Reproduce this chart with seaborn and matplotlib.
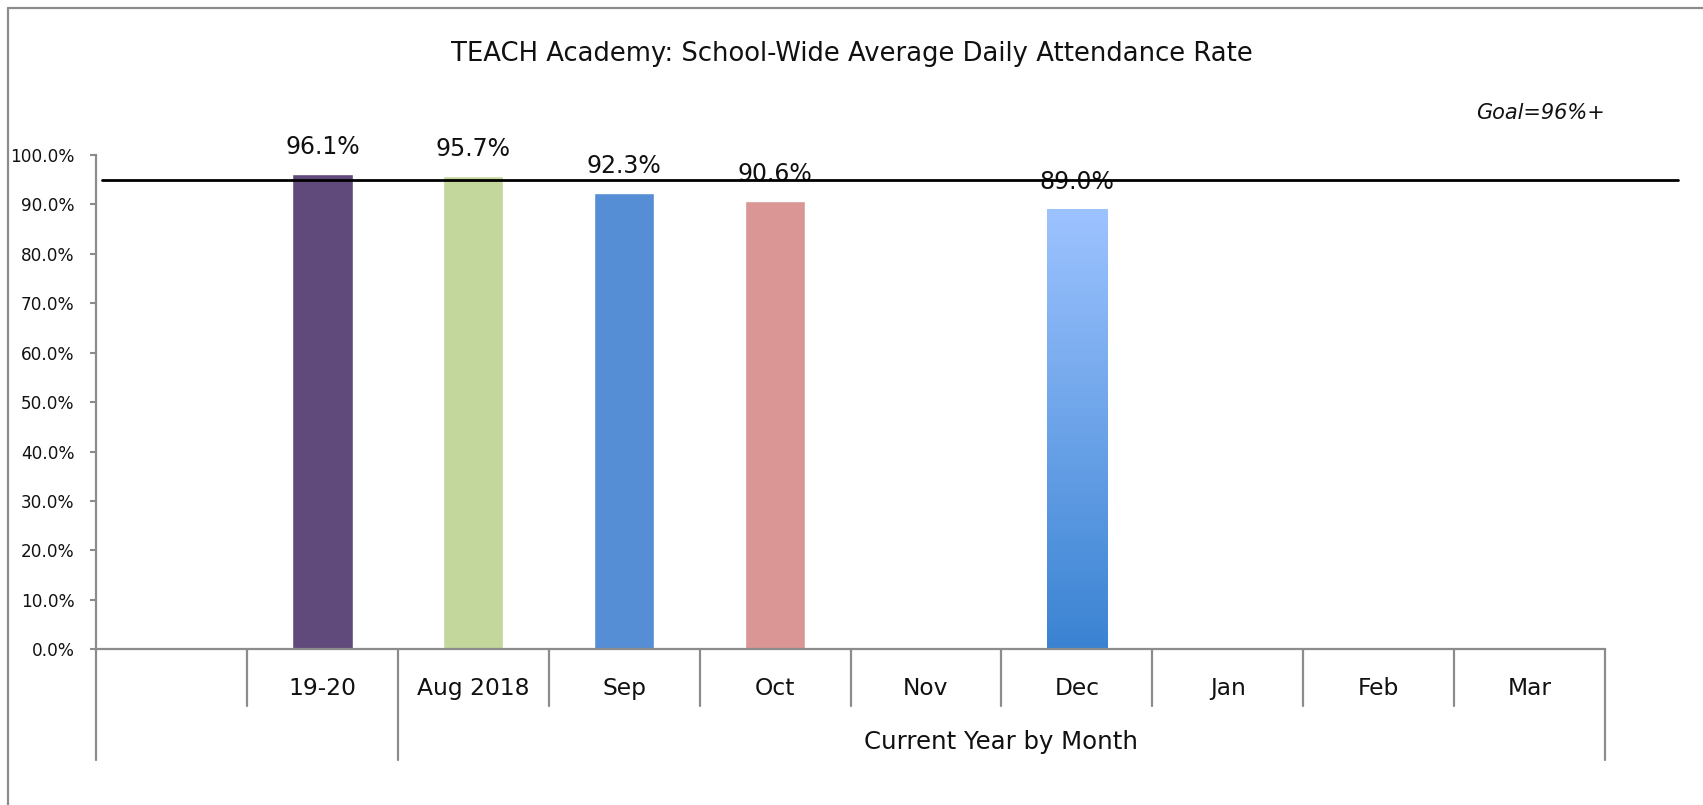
import numpy as np
import pandas as pd
import matplotlib
matplotlib.use("Agg")
import matplotlib.pyplot as plt
import matplotlib.transforms as mtransforms
from matplotlib.lines import Line2D
from matplotlib.ticker import PercentFormatter
import seaborn as sns

# ---- data ----
categories = ["", "19-20", "Aug 2018", "Sep", "Oct", "Nov", "Dec", "Jan", "Feb", "Mar"]
rates = [np.nan, 0.961, 0.957, 0.923, 0.906, np.nan, 0.890, np.nan, np.nan, np.nan]
bar_colors = {"19-20": "#604A7B", "Aug 2018": "#C3D69B", "Sep": "#558ED5",
              "Oct": "#D99694", "Dec": "#7AAEF0"}
groups = ["", "Current Year by Month"]
group_spans = [(0, 1), (2, 9)]
goal_value = 0.95
goal_text = "Goal=96%+"
title = "TEACH Academy: School-Wide Average Daily Attendance Rate"
y_ticks = [i / 10 for i in range(11)]

sns.set_style("white")
plt.rcParams["font.family"] = ["DejaVu Sans"]

W, H = 1703, 805
fig = plt.figure(figsize=(W / 100, H / 100), dpi=100)
ax = fig.add_axes([96 / W, 1 - 649.3 / H, (1605 - 96) / W, (649.3 - 155) / H])

df = pd.DataFrame({"cat": categories, "rate": rates}).dropna()
sns.barplot(data=df, x="cat", y="rate", hue="cat", order=categories,
            palette=bar_colors, width=0.4, legend=False, ax=ax,
            saturation=1, errorbar=None)

# gradient fill for Dec bar
dec_idx = categories.index("Dec")
for p in ax.patches:
    x0 = p.get_x()
    if abs(x0 + p.get_width() / 2 - dec_idx) < 1e-6:
        h = p.get_height()
        cmap = matplotlib.colors.LinearSegmentedColormap.from_list(
            "g", ["#3A83D2", "#9DC3FF"])
        grad = np.linspace(0, 1, 256).reshape(-1, 1)
        im = ax.imshow(grad, cmap=cmap, aspect="auto", origin="lower",
                       extent=[x0, x0 + p.get_width(), 0, h], zorder=p.get_zorder() + 0.1)
        im.set_clip_path(p)
        p.set_facecolor("none")

for c in ax.containers:
    ax.bar_label(c, fmt="{:.1%}", padding=11, fontsize=17, color="#111111")

ax.set_xlim(-0.5, len(categories) - 0.5)
ax.set_ylim(0, 1.0)
ax.set_yticks(y_ticks)
ax.yaxis.set_major_formatter(PercentFormatter(1.0, decimals=1))
ax.set_xticks(range(len(categories)), labels=categories)
ax.tick_params(axis="x", length=0, pad=20, labelsize=16.8, labelcolor="#111111")
ax.tick_params(axis="y", left=True, length=4.5, width=1.5, color="#8C8C8C",
               direction="out", pad=11, labelsize=12.2, labelcolor="#111111")
ax.set_xlabel("")
ax.set_ylabel("")
ax.set_aspect("auto")

for s in ["top", "right"]:
    ax.spines[s].set_visible(False)
for s in ["left", "bottom"]:
    ax.spines[s].set_color("#8C8C8C")
    ax.spines[s].set_linewidth(1.6)

# goal line (extends past plot area)
gtrans = mtransforms.blended_transform_factory(ax.transAxes, ax.transData)
ax.plot([0.004, (1678 - 96) / (1605 - 96)], [goal_value, goal_value],
        transform=gtrans, color="black", lw=2.0, clip_on=False, zorder=5)

# multi-level category separators
sep_trans = mtransforms.blended_transform_factory(ax.transData, ax.transAxes)
short_y = -(706 - 649.3) / (649.3 - 155)
long_y = -(760 - 649.3) / (649.3 - 155)
group_edges = set()
for a, b in group_spans:
    group_edges.add(a - 0.5)
    group_edges.add(b + 0.5)
for i in range(len(categories) + 1):
    xb = i - 0.5
    yend = long_y if xb in group_edges else short_y
    ax.plot([xb, xb], [0, yend], transform=sep_trans, color="#8C8C8C",
            lw=1.6, clip_on=False)

lab_y = -(742 - 649.3) / (649.3 - 155)
for g, (a, b) in zip(groups, group_spans):
    if g:
        ax.text((a + b) / 2, lab_y, g, transform=sep_trans,
                ha="center", va="center", fontsize=17.6, color="#111111")

fig.text(851.5 / W, 1 - 61 / H, title, ha="center", va="baseline",
         fontsize=18.6, color="#111111")
fig.text(1605 / W, 1 - 113 / H, goal_text, ha="right", va="center",
         fontsize=15, style="italic", color="#111111")

# chart-area border
bx, by = 8 / W, 1 - 8 / H
fig.add_artist(Line2D([bx, bx], [0, by], transform=fig.transFigure,
                      color="#8C8C8C", lw=1.6))
fig.add_artist(Line2D([bx, 1], [by, by], transform=fig.transFigure,
                      color="#8C8C8C", lw=1.6))

fig.savefig("out.png", dpi=100)
